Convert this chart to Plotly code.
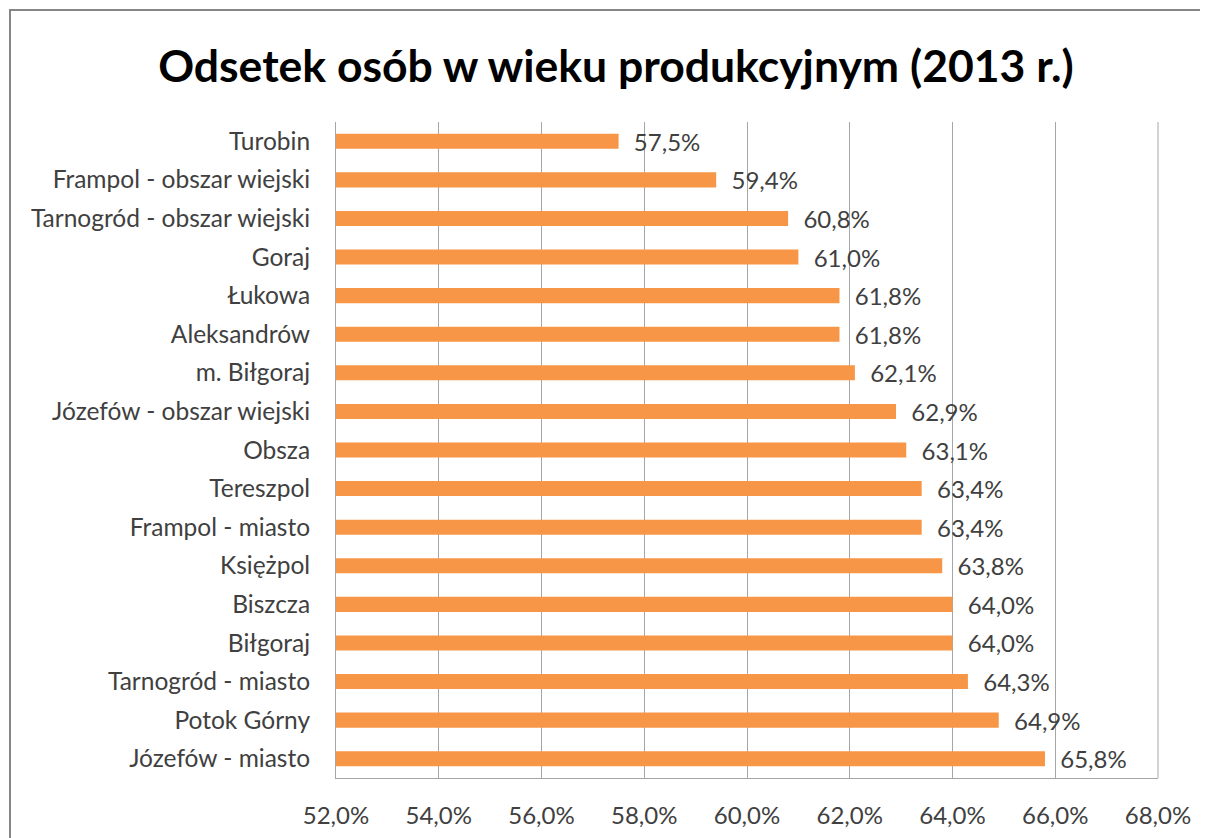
import plotly.graph_objects as go

categories = [
    "Turobin", "Frampol - obszar wiejski", "Tarnogród - obszar wiejski", "Goraj",
    "Łukowa", "Aleksandrów", "m. Biłgoraj", "Józefów - obszar wiejski", "Obsza",
    "Tereszpol", "Frampol - miasto", "Księżpol", "Biszcza", "Biłgoraj",
    "Tarnogród - miasto", "Potok Górny", "Józefów - miasto",
]
values = [57.5, 59.4, 60.8, 61.0, 61.8, 61.8, 62.1, 62.9, 63.1, 63.4, 63.4,
          63.8, 64.0, 64.0, 64.3, 64.9, 65.8]
tick_values = [52, 54, 56, 58, 60, 62, 64, 66, 68]
tick_labels = [f"{v:.1f}%".replace(".", ",") for v in tick_values]
value_labels = [f"\u00a0\u00a0{v:.1f}%".replace(".", ",") for v in values]

FONT = "Lato"
OFF = 8  # page body margin
W, H = 1208 - OFF, 838 - OFF
L, R, T, B = 336 - OFF, 50, 122 - OFF, 60
pw, ph = W - L - R, H - T - B

fig = go.Figure(go.Bar(
    y=categories, x=values, orientation="h",
    marker=dict(color="#F79646", line=dict(width=0)),
    width=0.39,
    text=value_labels,
    textposition="outside",
    constraintext="none",
    textfont=dict(family=FONT, size=24, color="#404040"),
    cliponaxis=False,
))

def px_x(p):
    return (p - OFF - L) / pw

def px_y(p):
    return (778 - p) / ph

fig.update_layout(
    width=W, height=H,
    margin=dict(l=L, r=R, t=T, b=B, autoexpand=False),
    paper_bgcolor="white", plot_bgcolor="white",
    showlegend=False,
    title=dict(text="<b>Odsetek osób w wieku produkcyjnym (2013 r.)</b>",
               x=(616 - OFF) / W, xanchor="center", xref="container",
               y=1 - (66 - OFF) / H, yanchor="middle", yref="container",
               font=dict(family=FONT, size=44.5, color="black")),
    xaxis=dict(range=[52, 68], tickvals=tick_values, ticktext=tick_labels,
               showgrid=True, gridcolor="#A6A6A6", gridwidth=1,
               showline=True, linecolor="#A6A6A6", linewidth=1,
               zeroline=False, ticks="", ticklabelstandoff=16, automargin=False,
               tickfont=dict(family=FONT, size=24, color="#404040")),
    yaxis=dict(autorange="reversed", showgrid=False,
               showline=True, linecolor="#A6A6A6", linewidth=1,
               ticks="", ticklabelstandoff=20, automargin=False,
               tickfont=dict(family=FONT, size=24.5, color="#404040")),
    shapes=[dict(type="rect", xref="paper", yref="paper",
                 x0=px_x(10), x1=px_x(1240), y0=px_y(870), y1=px_y(10),
                 line=dict(color="#868686", width=2), fillcolor="rgba(0,0,0,0)",
                 layer="above"),
            dict(type="line", xref="paper", yref="paper",
                 x0=1, x1=1, y0=0, y1=1, line=dict(color="#A6A6A6", width=1))],
)

fig.write_html("out.html")
